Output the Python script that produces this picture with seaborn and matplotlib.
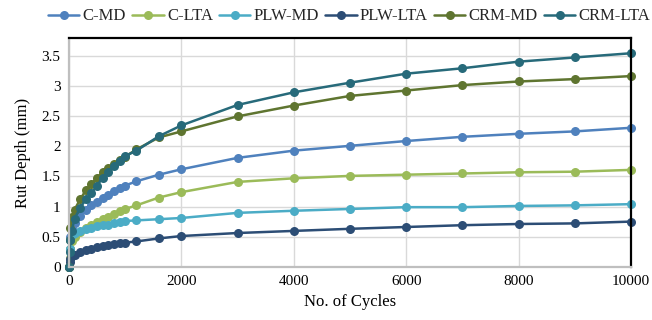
import numpy as np
import pandas as pd
import matplotlib
matplotlib.use("Agg")
import matplotlib.pyplot as plt
import seaborn as sns

cycles = [0, 10, 25, 50, 100, 200, 300, 400, 500, 600, 700, 800, 900, 1000,
          1200, 1600, 2000, 3000, 4000, 5000, 6000, 7000, 8000, 9000, 10000]

c_md = [0, 0.30, 0.50, 0.62, 0.72, 0.85, 0.95, 1.02, 1.08, 1.14, 1.20, 1.26, 1.31, 1.35,
        1.42, 1.53, 1.62, 1.81, 1.93, 2.01, 2.09, 2.16, 2.21, 2.25, 2.31]
c_lta = [0, 0.15, 0.30, 0.42, 0.50, 0.58, 0.64, 0.69, 0.74, 0.79, 0.83, 0.88, 0.92, 0.96,
         1.02, 1.15, 1.24, 1.41, 1.47, 1.51, 1.53, 1.55, 1.57, 1.58, 1.61]
plw_md = [0, 0.30, 0.45, 0.52, 0.56, 0.60, 0.63, 0.65, 0.67, 0.69, 0.70, 0.72, 0.74, 0.76,
          0.77, 0.79, 0.81, 0.895, 0.93, 0.96, 0.99, 0.99, 1.01, 1.02, 1.04]
plw_lta = [0, 0.08, 0.13, 0.17, 0.20, 0.24, 0.27, 0.30, 0.32, 0.34, 0.36, 0.38, 0.39, 0.40,
           0.42, 0.47, 0.51, 0.56, 0.595, 0.63, 0.66, 0.69, 0.71, 0.72, 0.75]
crm_md = [0, 0.45, 0.65, 0.82, 0.95, 1.12, 1.27, 1.38, 1.48, 1.57, 1.64, 1.71, 1.77, 1.83,
          1.95, 2.15, 2.25, 2.50, 2.68, 2.84, 2.93, 3.02, 3.08, 3.12, 3.17]
crm_lta = [0, 0.25, 0.45, 0.60, 0.80, 0.98, 1.12, 1.22, 1.35, 1.48, 1.58, 1.68, 1.76, 1.84,
           1.93, 2.17, 2.35, 2.69, 2.90, 3.06, 3.21, 3.30, 3.41, 3.48, 3.55]

series_names = ["C-MD", "C-LTA", "PLW-MD", "PLW-LTA", "CRM-MD", "CRM-LTA"]
series_vals = [c_md, c_lta, plw_md, plw_lta, crm_md, crm_lta]
colors = ["#4f81bd", "#9bbb59", "#4bacc6", "#2c4d75", "#5f7530", "#276a7a"]

x_ticks = [0, 2000, 4000, 6000, 8000, 10000]
y_ticks = [0, 0.5, 1, 1.5, 2, 2.5, 3, 3.5]
y_tick_labels = ["0", "0.5", "1", "1.5", "2", "2.5", "3", "3.5"]

rows = []
for name, vals in zip(series_names, series_vals):
    for c, v in zip(cycles, vals):
        rows.append({"Cycles": c, "Rut": v, "Mix": name})
df = pd.DataFrame(rows)

sns.set_theme(style="white")
plt.rcParams["font.family"] = ["Liberation Serif", "DejaVu Serif"]

fig = plt.figure(figsize=(6.52, 3.2), dpi=100)
ax = fig.add_axes([0.1058, 0.1666, 0.862, 0.714])

sns.lineplot(data=df, x="Cycles", y="Rut", hue="Mix", hue_order=series_names,
             palette=colors, marker="o", markersize=6.5, markeredgewidth=0,
             linewidth=1.8, sort=False, ax=ax, legend=True)

for ln in ax.lines:
    ln.set_clip_on(False)

ax.set_xlim(0, 10000)
ax.set_ylim(0, 3.8)
ax.set_xticks(x_ticks)
ax.set_xticklabels([str(t) for t in x_ticks])
ax.set_yticks(y_ticks)
ax.set_yticklabels(y_tick_labels)
ax.tick_params(axis="both", labelsize=11, colors="black", length=0, pad=6)
ax.grid(True, color="#d9d9d9", linewidth=1)
ax.set_axisbelow(True)

for side in ["top", "right"]:
    ax.spines[side].set_color("black")
    ax.spines[side].set_linewidth(1.6)
for side in ["left", "bottom"]:
    ax.spines[side].set_color("#bfbfbf")
    ax.spines[side].set_linewidth(1.6)

ax.set_xlabel("No. of Cycles", fontsize=12, color="black", labelpad=4)
ax.set_ylabel("Rut Depth (mm)", fontsize=12, color="black", labelpad=8)

handles, labels = ax.get_legend_handles_labels()
ax.get_legend().remove()
fig.legend(handles, labels, ncol=6, loc="upper right", bbox_to_anchor=(1.013, 1.005),
           frameon=False, fontsize=12, handlelength=1.9, handletextpad=0.2,
           columnspacing=0.35, borderaxespad=0.2)

fig.savefig("out.png", dpi=100)
